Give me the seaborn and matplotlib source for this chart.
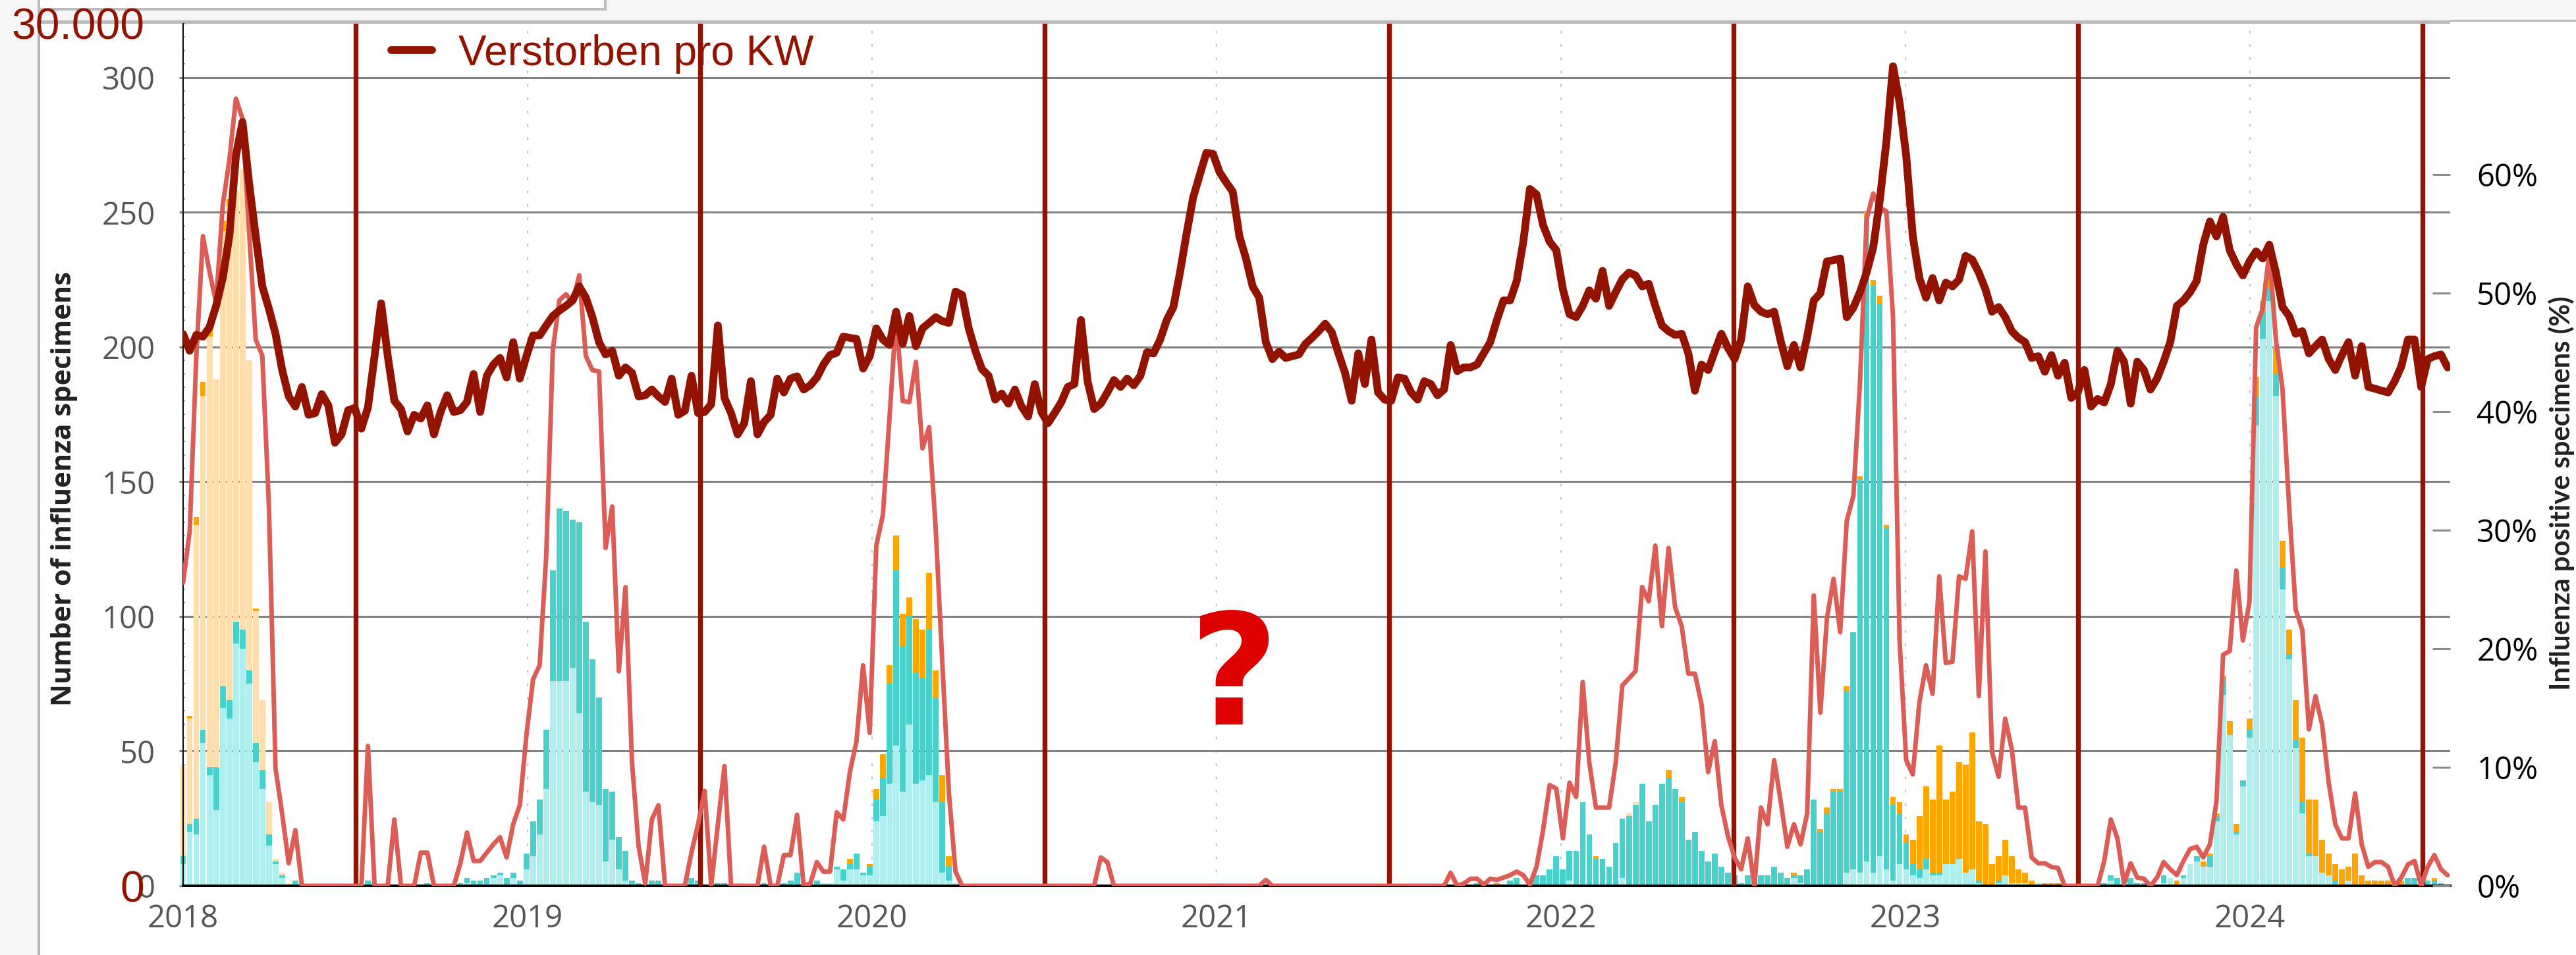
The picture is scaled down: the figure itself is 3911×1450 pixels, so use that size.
import numpy as np
import matplotlib
matplotlib.use("Agg")
import matplotlib.pyplot as plt
from matplotlib.patches import Rectangle
from matplotlib.ticker import MultipleLocator
import seaborn as sns

# weekly values, KW1 2018 .. KW31 2024
deaths = [
    # 2018
    19200, 18620, 19170, 19110, 19440, 20180, 21150, 22600, 25410, 26580,
    24440, 22600, 20860, 20080, 19210, 17950, 17030, 16680, 17360, 16390,
    16450, 17110, 16720, 15420, 15710, 16550, 16630, 15910, 16650, 18430,
    20270, 18430, 16880, 16590, 15810, 16390, 16260, 16720, 15710, 16490,
    17070, 16490, 16550, 16840, 17810, 16490, 17750, 18140, 18370, 17690,
    18920, 17650,
    # 2019
    18430, 19150, 19150, 19500, 19830, 20020, 20180, 20370, 20860, 20470,
    19790, 18920, 18490, 18620, 17750, 18040, 17850, 17030, 17070, 17270,
    17030, 16840, 17650, 16390, 16530, 17750, 16450, 16490, 16760, 19500,
    16980, 16450, 15710, 16100, 17560, 15710, 16140, 16390, 17650, 17170,
    17650, 17730, 17270, 17420, 17690, 18140, 18470, 18550, 19110, 19070,
    19030, 18000,
    # 2020
    18430, 19400, 19010, 18820, 19980, 18860, 19830, 18780, 19400, 19590,
    19790, 19650, 19590, 20680, 20560, 19400, 18620, 17980, 17750, 16920,
    17130, 16780, 17270, 16680, 16330, 17460, 16490, 16100, 16450, 16820,
    17360, 17460, 19690, 17560, 16590, 16780, 17170, 17600, 17360, 17650,
    17420, 17750, 18570, 18530, 19010, 19690, 20140, 21340, 22700, 23960,
    24740, 25510, 25470,
    # 2021
    24830, 24480, 24150, 22600, 21830, 20860, 20470, 18920, 18330, 18590,
    18370, 18430, 18490, 18860, 19070, 19300, 19560, 19260, 18530, 17850,
    16880, 18530, 17460, 19010, 17170, 16920, 16880, 17690, 17650, 17170,
    16920, 17560, 17460, 17070, 17270, 18820, 17910, 18040, 18040, 18140,
    18530, 18920, 19690, 20370, 20370, 21050, 22410, 24250, 24060, 22990,
    22410, 22120,
    # 2022
    20760, 19890, 19790, 20180, 20720, 20430, 21400, 20180, 20660, 21110,
    21340, 21240, 20860, 20950, 20180, 19500, 19300, 19170, 19210, 18530,
    17230, 18140, 17950, 18590, 19210, 18720, 18330, 19010, 20860, 20210,
    19980, 19890, 19980, 18950, 18080, 18820, 18040, 19110, 20370, 20620,
    21730, 21770, 21830, 19790, 20120, 20660, 21340, 22210, 23860, 25900,
    28520, 27260,
    # 2023
    25410, 22600, 21150, 20470, 21150, 20370, 20990, 20860, 21090, 21920,
    21790, 21340, 20760, 19980, 20140, 19790, 19300, 19070, 18920, 18370,
    18430, 17890, 18470, 17750, 18200, 16980, 17170, 17950, 16680, 16940,
    16820, 17460, 18620, 18240, 16780, 18240, 17950, 17270, 17650, 18240,
    18920, 20180, 20370, 20660, 21050, 22310, 23120, 22600, 23280, 22120,
    21630, 21240,
    # 2024
    21730, 22080, 21830, 22310, 21340, 20140, 19830, 19210, 19300, 18530,
    18780, 19010, 18330, 17950, 18470, 18920, 17750, 18780, 17360, 17300,
    17230, 17170, 17560, 18080, 19010, 19010, 17360, 18330, 18430, 18490,
    18040,
]

positive_pct = [
    # 2018
    25.6, 29.9, 44.7, 54.8, 51.8, 49.2, 57.4, 61.2, 66.4, 64.7,
    55.1, 46.1, 44.7, 32.0, 9.9, 6.1, 1.9, 4.7, 0, 0,
    0, 0, 0, 0, 0, 0, 0, 0, 11.8, 0,
    0, 0, 5.6, 0, 0, 0, 2.8, 2.8, 0, 0,
    0, 0, 1.9, 4.5, 2.1, 2.1, 2.8, 3.5, 4.1, 2.4,
    5.2, 6.8,
    # 2019
    12.7, 17.4, 18.6, 27.8, 45.2, 49.4, 49.9, 49.2, 51.5, 44.7,
    43.5, 43.4, 28.5, 32.0, 18.1, 25.2, 10.4, 3.3, 0.2, 5.6,
    6.8, 0, 0, 0, 0, 2.8, 5.2, 8.0, 0, 5.2,
    10.1, 0, 0, 0, 0, 0, 3.3, 0, 0, 2.6,
    2.6, 6.0, 0, 0.2, 2.0, 1.2, 1.2, 6.2, 5.6, 9.6,
    12.2, 18.6,
    # 2020
    12.9, 28.7, 31.3, 39.5, 48.0, 40.9, 40.8, 44.2, 36.9, 38.7,
    30.1, 18.8, 7.8, 1.2, 0, 0, 0, 0, 0, 0,
    0, 0, 0, 0, 0, 0, 0, 0, 0, 0,
    0, 0, 0, 0, 0, 2.4, 2.0, 0, 0, 0,
    0, 0, 0, 0, 0, 0, 0, 0, 0, 0,
    0, 0, 0,
    # 2021
    0, 0, 0, 0, 0, 0, 0, 0.5, 0, 0,
    0, 0, 0, 0, 0, 0, 0, 0, 0, 0,
    0, 0, 0, 0, 0, 0, 0, 0, 0, 0,
    0, 0, 0, 0, 0, 1.1, 0, 0.2, 0.6, 0.6,
    0.1, 0.6, 0.5, 0.7, 0.9, 1.2, 0.9, 0.1, 1.6, 4.7,
    8.5, 8.2,
    # 2022
    4.0, 8.7, 7.5, 17.2, 10.4, 6.6, 6.6, 6.6, 10.4, 16.9,
    17.5, 18.1, 25.2, 24.0, 28.7, 21.9, 28.5, 23.5, 21.9, 17.9,
    17.9, 15.3, 9.6, 12.2, 6.8, 4.2, 2.4, 1.4, 4.0, 0,
    6.6, 5.2, 10.6, 7.1, 3.3, 5.2, 3.5, 6.1, 24.5, 14.6,
    22.6, 25.9, 21.4, 30.8, 32.9, 42.4, 56.2, 58.4, 57.2, 56.9,
    48.0, 20.7,
    # 2023
    10.6, 9.4, 15.5, 18.6, 16.2, 26.1, 18.8, 18.9, 26.1, 25.9,
    29.9, 16.0, 28.2, 11.3, 9.2, 14.1, 11.5, 6.6, 6.6, 2.4,
    1.9, 1.9, 1.6, 1.5, 0, 0, 0, 0, 0, 0,
    2.1, 5.6, 4.0, 0.2, 1.9, 0.7, 0.6, 0, 0.7, 2.0,
    1.4, 0.9, 2.1, 3.1, 3.3, 2.4, 3.5, 7.1, 19.5, 19.8,
    26.6, 20.7,
    # 2024
    24.0, 47.1, 48.7, 53.4, 46.1, 41.9, 32.0, 23.3, 21.6, 13.2,
    16.0, 13.6, 8.7, 5.2, 4.0, 4.0, 7.8, 3.5, 1.6, 2.0,
    2.0, 1.6, 0, 0.7, 1.8, 2.1, 0, 1.6, 2.6, 1.4,
    0.9,
]

# specimens per week by subtype
a_h1n1 = [
    # 2018
    8, 20, 19, 53, 41, 28, 66, 62, 90, 88,
    75, 46, 36, 15, 8, 3, 0, 0, 0, 0,
    0, 0, 0, 0, 0, 0, 0, 0, 0, 0,
    0, 0, 0, 0, 0, 0, 0, 0, 0, 0,
    0, 0, 0, 1, 0, 0, 0, 3, 4, 0,
    3, 0,
    # 2019
    6, 11, 19, 36, 76, 76, 76, 81, 64, 35,
    31, 30, 9, 17, 6, 2, 0, 0, 0, 0,
    0, 0, 0, 0, 0, 0, 0, 0, 0, 0,
    0, 0, 0, 0, 0, 0, 0, 0, 0, 0,
    0, 0, 0, 0, 0, 1, 1, 6, 2, 6,
    6, 4,
    # 2020
    4, 24, 26, 38, 52, 35, 60, 38, 39, 41,
    31, 5, 2, 1, 0, 0, 0, 0, 0, 0,
    0, 0, 0, 0, 0, 0, 0, 0, 0, 0,
    0, 0, 0, 0, 0, 0, 0, 0, 0, 0,
    0, 0, 0, 0, 0, 0, 0, 0, 0, 0,
    0, 0, 0,
    # 2021
    0, 0, 0, 0, 0, 0, 0, 0, 0, 0,
    0, 0, 0, 0, 0, 0, 0, 0, 0, 0,
    0, 0, 0, 0, 0, 0, 0, 0, 0, 0,
    0, 0, 0, 0, 0, 0, 0, 0, 0, 0,
    0, 0, 0, 0, 0, 0, 0, 0, 0, 0,
    0, 0,
    # 2022
    0, 2, 0, 0, 0, 0, 0, 0, 0, 3,
    0, 0, 0, 0, 0, 0, 0, 0, 0, 0,
    0, 0, 0, 0, 0, 0, 0, 0, 0, 0,
    0, 0, 0, 0, 0, 3, 1, 0, 0, 0,
    0, 0, 0, 5, 6, 5, 9, 5, 11, 6,
    2, 8,
    # 2023
    6, 4, 3, 6, 4, 4, 8, 8, 10, 5,
    6, 1, 0, 0, 1, 4, 1, 1, 1, 0,
    1, 0, 0, 0, 0, 0, 0, 0, 0, 0,
    0, 2, 0, 0, 0, 0, 0, 0, 0, 1,
    3, 0, 3, 8, 9, 7, 7, 24, 71, 56,
    19, 37,
    # 2024
    55, 171, 203, 217, 182, 110, 84, 51, 27, 11,
    11, 5, 4, 0, 0, 2, 0, 0, 0, 0,
    0, 0, 0, 0, 0, 0, 0, 0, 0, 0,
    0,
]

a_h3 = [
    # 2018
    3, 3, 6, 5, 3, 16, 8, 7, 8, 7,
    5, 7, 7, 4, 1, 1, 0, 2, 0, 0,
    0, 0, 0, 0, 0, 0, 0, 0, 2, 0,
    0, 0, 0, 0, 0, 0, 0, 1, 0, 0,
    0, 0, 1, 2, 2, 2, 3, 1, 1, 3,
    2, 2,
    # 2019
    6, 13, 13, 22, 41, 64, 63, 55, 71, 63,
    53, 40, 27, 18, 12, 11, 2, 1, 0, 2,
    2, 0, 0, 0, 0, 3, 2, 0, 0, 1,
    1, 0, 0, 0, 0, 0, 1, 0, 0, 1,
    2, 5, 0, 0, 2, 0, 0, 1, 4, 2,
    6, 1,
    # 2020
    3, 8, 14, 37, 65, 54, 40, 41, 38, 54,
    39, 26, 5, 0, 0, 0, 0, 0, 0, 0,
    0, 0, 0, 0, 0, 0, 0, 0, 0, 0,
    0, 0, 0, 0, 0, 0, 0, 0, 0, 0,
    0, 0, 0, 0, 0, 0, 0, 0, 0, 0,
    0, 0, 0,
    # 2021
    0, 0, 0, 0, 0, 0, 0, 0, 0, 0,
    0, 0, 0, 0, 0, 0, 0, 0, 0, 0,
    0, 0, 0, 0, 0, 0, 0, 0, 0, 0,
    0, 0, 0, 0, 0, 0, 0, 0, 0, 1,
    0, 0, 0, 0, 2, 3, 0, 0, 4, 4,
    6, 11,
    # 2022
    6, 11, 13, 31, 19, 10, 10, 7, 16, 22,
    26, 30, 38, 24, 30, 38, 40, 36, 31, 17,
    20, 13, 9, 12, 7, 5, 4, 1, 4, 4,
    4, 4, 7, 5, 3, 1, 3, 6, 32, 20,
    27, 35, 35, 67, 88, 146, 239, 218, 205, 127,
    28, 19,
    # 2023
    10, 4, 3, 4, 1, 1, 0, 0, 0, 0,
    0, 1, 0, 0, 1, 0, 0, 0, 0, 0,
    0, 0, 0, 0, 0, 0, 0, 0, 0, 0,
    1, 2, 3, 0, 3, 1, 1, 0, 0, 3,
    0, 0, 1, 0, 2, 0, 4, 2, 6, 0,
    1, 2,
    # 2024
    3, 11, 10, 5, 8, 8, 2, 3, 4, 1,
    0, 0, 0, 2, 0, 0, 0, 0, 0, 0,
    0, 0, 0, 0, 3, 3, 0, 2, 2, 1,
    0,
]

b_yam = [
    # 2018
    34, 39, 109, 124, 160, 144, 169, 183, 160, 171,
    115, 49, 26, 12, 1, 1, 1, 0, 0, 0,
    0, 0, 0, 0, 0, 0, 0, 0, 0, 0,
    0, 0, 0, 0, 0, 0, 0, 0, 0, 0,
    0, 0, 0, 0, 0, 0, 0, 0, 0, 0,
    0, 0,
    # 2019
    0, 0, 0, 0, 0, 0, 0, 0, 0, 0,
    0, 0, 0, 0, 0, 0, 0, 0, 0, 0,
    0, 0, 0, 0, 0, 0, 0, 0, 0, 0,
    0, 0, 0, 0, 0, 0, 0, 0, 0, 0,
    0, 0, 0, 0, 0, 0, 0, 0, 0, 0,
    0, 0,
    # 2020
    0, 0, 0, 0, 0, 0, 0, 0, 0, 0,
    0, 0, 0, 0, 0, 0, 0, 0, 0, 0,
    0, 0, 0, 0, 0, 0, 0, 0, 0, 0,
    0, 0, 0, 0, 0, 0, 0, 0, 0, 0,
    0, 0, 0, 0, 0, 0, 0, 0, 0, 0,
    0, 0, 0,
    # 2021
    0, 0, 0, 0, 0, 0, 0, 0, 0, 0,
    0, 0, 0, 0, 0, 0, 0, 0, 0, 0,
    0, 0, 0, 0, 0, 0, 0, 0, 0, 0,
    0, 0, 0, 0, 0, 0, 0, 0, 0, 0,
    0, 0, 0, 0, 0, 0, 0, 0, 0, 0,
    0, 0,
    # 2022
    0, 0, 0, 0, 0, 0, 0, 0, 0, 0,
    1, 1, 0, 0, 0, 0, 0, 0, 0, 0,
    0, 0, 0, 0, 0, 0, 0, 0, 0, 0,
    0, 0, 0, 0, 0, 0, 0, 0, 0, 0,
    0, 0, 0, 0, 0, 0, 0, 0, 0, 0,
    0, 0,
    # 2023
    0, 0, 0, 0, 0, 0, 0, 0, 0, 0,
    0, 0, 0, 0, 0, 0, 0, 0, 0, 0,
    0, 0, 0, 0, 0, 0, 0, 0, 0, 0,
    0, 0, 0, 0, 0, 0, 0, 0, 0, 0,
    0, 0, 0, 0, 0, 0, 0, 0, 0, 0,
    0, 0,
    # 2024
    0, 0, 0, 0, 0, 0, 0, 0, 0, 0,
    0, 0, 0, 0, 0, 0, 0, 0, 0, 0,
    0, 0, 0, 0, 0, 0, 0, 0, 0, 0,
    0,
]

b_vic = [
    # 2018
    0, 1, 3, 5, 3, 0, 4, 3, 0, 0,
    0, 1, 0, 0, 0, 0, 0, 0, 0, 0,
    0, 0, 0, 0, 0, 0, 0, 0, 0, 0,
    0, 0, 0, 0, 0, 0, 0, 0, 0, 0,
    0, 0, 0, 0, 0, 0, 0, 0, 0, 0,
    0, 0,
    # 2019
    0, 0, 0, 0, 0, 0, 0, 0, 0, 0,
    0, 0, 0, 0, 0, 0, 0, 0, 0, 0,
    0, 0, 0, 0, 0, 0, 0, 0, 0, 0,
    0, 0, 0, 0, 0, 0, 0, 0, 0, 0,
    0, 0, 0, 0, 0, 0, 0, 0, 0, 2,
    0, 0,
    # 2020
    1, 4, 9, 7, 13, 12, 7, 20, 18, 21,
    10, 10, 4, 0, 0, 0, 0, 0, 0, 0,
    0, 0, 0, 0, 0, 0, 0, 0, 0, 0,
    0, 0, 0, 0, 0, 0, 0, 0, 0, 0,
    0, 0, 0, 0, 0, 0, 0, 0, 0, 0,
    0, 0, 0,
    # 2021
    0, 0, 0, 0, 0, 0, 0, 0, 0, 0,
    0, 0, 0, 0, 0, 0, 0, 0, 0, 0,
    0, 0, 0, 0, 0, 0, 0, 0, 0, 0,
    0, 0, 0, 0, 0, 0, 0, 0, 0, 0,
    0, 0, 1, 0, 0, 0, 0, 1, 0, 0,
    0, 0,
    # 2022
    0, 0, 0, 0, 0, 1, 0, 0, 0, 0,
    0, 0, 0, 0, 0, 0, 3, 0, 2, 0,
    0, 0, 0, 0, 0, 0, 0, 0, 0, 0,
    0, 0, 0, 0, 0, 1, 0, 0, 0, 1,
    2, 1, 1, 2, 0, 1, 2, 2, 3, 1,
    3, 4,
    # 2023
    3, 9, 20, 27, 27, 47, 24, 27, 36, 40,
    51, 22, 23, 8, 9, 13, 10, 5, 4, 2,
    0, 1, 1, 1, 0, 0, 0, 0, 0, 0,
    0, 0, 0, 0, 0, 0, 0, 0, 0, 0,
    0, 2, 0, 0, 0, 2, 1, 1, 1, 5,
    3, 0,
    # 2024
    4, 7, 4, 8, 10, 10, 9, 15, 24, 20,
    21, 12, 8, 6, 6, 5, 12, 4, 2, 2,
    2, 2, 0, 2, 0, 0, 0, 0, 1, 0,
    0,
]

years = [2018, 2019, 2020, 2021, 2022, 2023, 2024]
year_labels = ["2018", "2019", "2020", "2021", "2022", "2023", "2024"]
count_ticks = [0, 50, 100, 150, 200, 250, 300]
pct_ticks = [0, 10, 20, 30, 40, 50, 60]
pct_labels = ["0%", "10%", "20%", "30%", "40%", "50%", "60%"]
death_ticks = [0, 30000]
death_labels = ["0", "30.000"]
kinds = ["A(H1N1)pdm09", "A(H3)", "B Yamagata", "B Victoria"]

DARK = "#921300"
LIGHT = "#db5d56"
palette = {"A(H1N1)pdm09": "#afeeee", "A(H3)": "#48d1cc",
           "B Yamagata": "#ffdead", "B Victoria": "#ffa500"}

sns.set_style("white")
plt.rcParams["font.family"] = ["Open Sans", "DejaVu Sans"]

n = len(deaths)
print(n, len(positive_pct), len(a_h1n1), len(a_h3), len(b_yam), len(b_vic))
wk = 7 / 365.25
t = 2018 + np.arange(n) * wk

W, H = 3912, 1450
fig = plt.figure(figsize=(W / 100, H / 100), dpi=100, facecolor="white")


def px_rect(x0, y0, x1, y1, color):
    # page furniture around the chart, pixel coords from the top-left
    fig.add_artist(Rectangle((x0 / W, 1 - y1 / H), (x1 - x0) / W, (y1 - y0) / H,
                             transform=fig.transFigure, facecolor=color,
                             edgecolor="none", zorder=-10))


px_rect(0, 0, W, 31, "#f6f6f6")
px_rect(57, 0, 921, 16, "#bcbcbc")
px_rect(61, 0, 917, 12, "white")
px_rect(0, 31, 3720, 36, "#bababa")
px_rect(3720, 30, W, 33, "#bababa")
px_rect(0, 31, 57, H, "#f6f6f6")
px_rect(57, 16, 61, H, "#b4b4b4")

ax = fig.add_axes([278 / W, 105 / H, 3442 / W, 1309 / H])

# stacked weekly bars
bottom = np.zeros(n)
for kind, vals in zip(kinds, [a_h1n1, a_h3, b_yam, b_vic]):
    ax.bar(t, vals, width=wk * 0.88, bottom=bottom, color=palette[kind],
           linewidth=0, clip_on=False, zorder=2, label=kind)
    bottom = bottom + np.array(vals)

for y in years:
    ax.axvline(y + 0.5, color=DARK, lw=5.3, zorder=4)

ax.set_xlim(2018, 2018 + 3442 / 523)
ax.set_ylim(0, 320)
ax.set_xticks(years)
ax.set_xticklabels(year_labels)
ax.set_yticks(count_ticks)
ax.yaxis.set_minor_locator(MultipleLocator(5))
ax.set_axisbelow(True)
ax.yaxis.grid(True, which="major", color="#808080", lw=2.2)
ax.xaxis.grid(True, color="#c6c6c6", lw=1.6, linestyle=(0, (1.8, 7.3)))
ax.tick_params(axis="y", which="major", length=4.3, width=2.2, color="#808080",
               labelsize=34, labelcolor="#5a5555", pad=26)
ax.tick_params(axis="y", which="minor", direction="in", length=2.2, width=1.4,
               color="#999999")
ax.tick_params(axis="x", length=3, width=1.5, color="#c0c0c0", labelsize=34,
               labelcolor="#5a5555", pad=16)
ax.spines[["top", "right"]].set_visible(False)
ax.spines["left"].set(color="black", lw=1.4)
ax.spines["bottom"].set(color="black", lw=2.9)
ax.set_xlabel("")
ax.set_ylabel("Number of influenza specimens", fontsize=30, fontweight="bold",
              color="#222222")
ax.yaxis.set_label_coords(-0.0465, 0.4606)

ax.text(2021.05, 60, "?", ha="center", va="baseline", fontsize=168,
        fontweight="bold", color="#dd0000",
        family=["Liberation Sans Narrow", "DejaVu Sans"], zorder=6)

# positivity on the right axis
ax2 = ax.twinx()
sns.lineplot(x=t, y=positive_pct, ax=ax2, color=LIGHT, linewidth=5)
ax2.set_ylim(0, 72.72)
ax2.set_yticks(pct_ticks)
ax2.set_yticklabels(pct_labels)
ax2.tick_params(axis="y", direction="in", length=19.5, width=2.2, color="#888888",
                labelsize=34, labelcolor="black", pad=29)
for s in ax2.spines.values():
    s.set_visible(False)
ax2.set_ylabel("Influenza positive specimens (%)", fontsize=30, fontweight="bold",
               family="Lato", color="#222222")
ax2.yaxis.set_label_coords(1.0433, 0.4553)

# deaths per week on its own scale
ax3 = ax.twinx()
sns.lineplot(x=t, y=deaths, ax=ax3, color=DARK, linewidth=8.5,
             label="Verstorben pro KW")
ax3.set_ylim(0, 30000)
ax3.yaxis.tick_left()
ax3.set_yticks(death_ticks)
ax3.set_yticklabels(death_labels, fontfamily="Liberation Sans")
ax3.tick_params(axis="y", length=0, pad=42.5, labelsize=47.5, labelcolor=DARK)
ax3.set_ylabel("")
for s in ax3.spines.values():
    s.set_visible(False)
ax3.legend(loc="upper left", bbox_to_anchor=(0.0918, 0.988), frameon=False,
           prop={"family": "Liberation Sans", "size": 46}, labelcolor=DARK,
           handlelength=0.97, handletextpad=0.62, borderpad=0, borderaxespad=0)

ax.set_zorder(1)
ax2.set_zorder(2)
ax3.set_zorder(3)

fig.savefig("out.png", dpi=100, facecolor="white")
